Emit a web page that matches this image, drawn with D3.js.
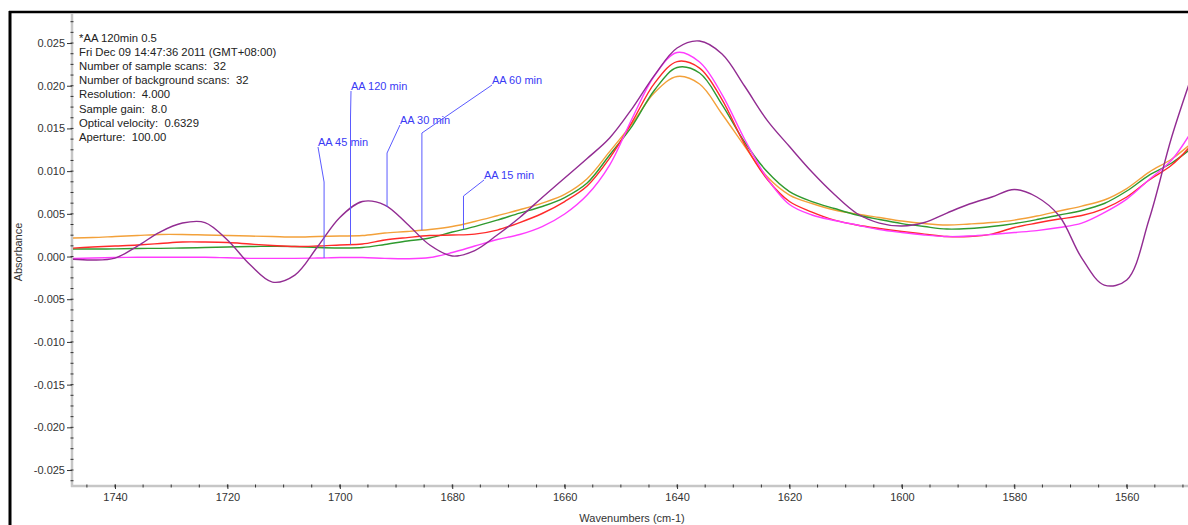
<!DOCTYPE html>
<html>
<head>
<meta charset="utf-8">
<script src="https://cdn.jsdelivr.net/npm/d3@7"></script>
<style>
  html, body { margin: 0; padding: 0; background: #fff; }
  svg { display: block; font-family: "Liberation Sans", Arial, sans-serif; }
</style>
</head>
<body>
<svg id="chart" width="1188" height="525"></svg>
<script>
// Wavenumber grid (cm-1), shared by every spectrum
const wavenumbers = [1748, 1744, 1740, 1736, 1732, 1728, 1724, 1720, 1716, 1712,
  1708, 1704, 1700, 1696, 1692, 1688, 1684, 1680, 1676, 1672,
  1668, 1664, 1660, 1656, 1652, 1648, 1644, 1640, 1636, 1632,
  1628, 1624, 1620, 1616, 1612, 1608, 1604, 1600, 1596, 1592,
  1588, 1584, 1580, 1576, 1572, 1568, 1564, 1560, 1556, 1552, 1548];

// Absorbance spectra
const aa15 = [0.00088, 0.00088, 0.00090, 0.00094, 0.00096, 0.00100, 0.00105, 0.00111, 0.00117, 0.00119,
  0.00117, 0.00105, 0.00100, 0.00105, 0.00141, 0.00182, 0.00217, 0.00287, 0.00351, 0.00427,
  0.00509, 0.00586, 0.00691, 0.00861, 0.01189, 0.01528, 0.01950, 0.02213, 0.02149, 0.01780,
  0.01341, 0.00995, 0.00761, 0.00644, 0.00562, 0.00486, 0.00433, 0.00386, 0.00351, 0.00322,
  0.00328, 0.00351, 0.00386, 0.00433, 0.00486, 0.00539, 0.00621, 0.00767, 0.00954, 0.01095, 0.01294];

const aa30 = [-0.00029, -0.00041, -0.00018, 0.00123, 0.00287, 0.00392, 0.00398, 0.00193, -0.00094, -0.00299,
  -0.00217, 0.00111, 0.00457, 0.00644, 0.00603, 0.00381, 0.00135, 0.00006, 0.00070, 0.00252,
  0.00457, 0.00691, 0.00919, 0.01148, 0.01388, 0.01733, 0.02125, 0.02442, 0.02524, 0.02372,
  0.01997, 0.01598, 0.01288, 0.00989, 0.00726, 0.00504, 0.00392, 0.00357, 0.00398, 0.00509,
  0.00615, 0.00697, 0.00785, 0.00697, 0.00474, -0.00018, -0.00334, -0.00275, 0.00439, 0.01399, 0.02196];

const aa45 = [-0.00023, -0.00018, -0.00012, -0.00009, -0.00009, -0.00009, -0.00009, -0.00015, -0.00021, -0.00021,
  -0.00021, -0.00018, -0.00012, -0.00012, -0.00021, -0.00026, -0.00012, 0.00047, 0.00123, 0.00199,
  0.00258, 0.00351, 0.00498, 0.00720, 0.01071, 0.01616, 0.02120, 0.02389, 0.02278, 0.01897,
  0.01376, 0.00919, 0.00609, 0.00486, 0.00422, 0.00369, 0.00316, 0.00281, 0.00252, 0.00234,
  0.00240, 0.00258, 0.00281, 0.00304, 0.00340, 0.00392, 0.00515, 0.00673, 0.00902, 0.01130, 0.01516];

const aa60 = [0.00217, 0.00222, 0.00234, 0.00246, 0.00258, 0.00258, 0.00252, 0.00246, 0.00240, 0.00234,
  0.00228, 0.00234, 0.00240, 0.00246, 0.00275, 0.00293, 0.00316, 0.00351, 0.00410, 0.00478,
  0.00548, 0.00626, 0.00728, 0.00911, 0.01228, 0.01556, 0.01920, 0.02108, 0.02020, 0.01669,
  0.01294, 0.00936, 0.00720, 0.00621, 0.00545, 0.00498, 0.00457, 0.00416, 0.00386, 0.00369,
  0.00381, 0.00398, 0.00427, 0.00474, 0.00533, 0.00591, 0.00662, 0.00796, 0.00989, 0.01142, 0.01353];

const aa120 = [0.00096, 0.00111, 0.00123, 0.00135, 0.00152, 0.00170, 0.00170, 0.00164, 0.00146, 0.00129,
  0.00117, 0.00123, 0.00135, 0.00146, 0.00193, 0.00222, 0.00246, 0.00252, 0.00263, 0.00310,
  0.00398, 0.00504, 0.00644, 0.00826, 0.01153, 0.01575, 0.02031, 0.02283, 0.02207, 0.01838,
  0.01317, 0.00908, 0.00644, 0.00521, 0.00427, 0.00369, 0.00328, 0.00293, 0.00263, 0.00234,
  0.00234, 0.00263, 0.00340, 0.00392, 0.00439, 0.00480, 0.00562, 0.00697, 0.00896, 0.01071, 0.01341];

// Axis ticks
const yTicks = [0.025, 0.020, 0.015, 0.010, 0.005, 0.000, -0.005, -0.010, -0.015, -0.020, -0.025];
const xTicks = [1740, 1720, 1700, 1680, 1660, 1640, 1620, 1600, 1580, 1560];

// Collection header
const infoLines = [
  "*AA 120min 0.5",
  "Fri Dec 09 14:47:36 2011 (GMT+08:00)",
  "Number of sample scans:  32",
  "Number of background scans:  32",
  "Resolution:  4.000",
  "Sample gain:  8.0",
  "Optical velocity:  0.6329",
  "Aperture:  100.00"
];

// Spectrum tags: which spectrum, and the wavenumber the leader points at
const tagNames = ["AA 45 min", "AA 120 min", "AA 30 min", "AA 60 min", "AA 15 min"];
const tagWavenumbers = [1702.8, 1698.1, 1691.6, 1685.4, 1678.0];

// ---- drawing ----
const series = [
  { name: "AA 60 min",  values: aa60,  color: "#f3a13a" },
  { name: "AA 15 min",  values: aa15,  color: "#2f9a2f" },
  { name: "AA 120 min", values: aa120, color: "#ff2a2a" },
  { name: "AA 45 min",  values: aa45,  color: "#ff3cff" },
  { name: "AA 30 min",  values: aa30,  color: "#922c92" }
];
const byName = Object.fromEntries(series.map(s => [s.name, s]));

const plot = { left: 72, right: 1188, top: 14, bottom: 486 };

const x = d3.scaleLinear().domain([1747.65, 1549.1]).range([plot.left, plot.right]);
const y = d3.scaleLinear().domain([-0.02687, 0.02840]).range([plot.bottom, plot.top]);

const svg = d3.select("#chart");

// frame
svg.append("line").attr("x1", 9).attr("x2", 1188).attr("y1", 12).attr("y2", 12)
  .attr("stroke", "#000").attr("stroke-width", 2.5);
svg.append("line").attr("x1", 10).attr("x2", 10).attr("y1", 11).attr("y2", 525)
  .attr("stroke", "#000").attr("stroke-width", 3);

// axis lines
svg.append("line").attr("x1", plot.left).attr("x2", plot.left).attr("y1", plot.top).attr("y2", plot.bottom + 1)
  .attr("stroke", "#c6c6c6").attr("stroke-width", 2.5);
svg.append("line").attr("x1", plot.left - 1).attr("x2", plot.right).attr("y1", plot.bottom).attr("y2", plot.bottom)
  .attr("stroke", "#c6c6c6").attr("stroke-width", 2.5);

// minor ticks
const yMinor = d3.range(-26, 23).map(i => i * 0.00125).filter(v => y(v) >= plot.top && y(v) <= plot.bottom);
svg.append("g").selectAll("line").data(yMinor).join("line")
  .attr("x1", plot.left - 1.5).attr("x2", plot.left + 1.5)
  .attr("y1", d => y(d)).attr("y2", d => y(d))
  .attr("stroke", "#333").attr("stroke-width", 1);
const xMinor = d3.range(1745, 1549, -5);
svg.append("g").selectAll("line").data(xMinor).join("line")
  .attr("x1", d => x(d)).attr("x2", d => x(d))
  .attr("y1", plot.bottom - 1.5).attr("y2", plot.bottom + 1.5)
  .attr("stroke", "#333").attr("stroke-width", 1);

// major axes
const yAxis = d3.axisLeft(y).tickValues(yTicks).tickSize(5).tickPadding(2)
  .tickFormat(d => d.toFixed(3));
const gy = svg.append("g").attr("transform", `translate(${plot.left},0)`).call(yAxis);
gy.select(".domain").remove();
gy.selectAll(".tick line").attr("stroke", "#333");
gy.selectAll(".tick text").attr("fill", "#333").attr("font-size", 11)
  .attr("font-family", "Liberation Sans, Arial, sans-serif");

const xAxis = d3.axisBottom(x).tickValues(xTicks).tickSize(3).tickPadding(4).tickFormat(d3.format("d"));
const gx = svg.append("g").attr("transform", `translate(0,${plot.bottom})`).call(xAxis);
gx.select(".domain").remove();
gx.selectAll(".tick line").attr("stroke", "#333").attr("y1", -1.5);
gx.selectAll(".tick text").attr("fill", "#333").attr("font-size", 11)
  .attr("font-family", "Liberation Sans, Arial, sans-serif");

// axis titles
svg.append("text").attr("transform", "translate(22,252) rotate(-90)")
  .attr("text-anchor", "middle").attr("font-size", 11).attr("fill", "#333").text("Absorbance");
svg.append("text").attr("x", 632).attr("y", 522)
  .attr("text-anchor", "middle").attr("font-size", 11).attr("fill", "#333").text("Wavenumbers (cm-1)");

// spectra
svg.append("clipPath").attr("id", "plot-clip").append("rect")
  .attr("x", plot.left + 1).attr("y", plot.top).attr("width", plot.right - plot.left).attr("height", plot.bottom - plot.top - 1);

const line = d3.line()
  .x((d, i) => x(wavenumbers[i]))
  .y(d => y(d))
  .curve(d3.curveCatmullRom.alpha(0.5));

svg.append("g").attr("clip-path", "url(#plot-clip)")
  .selectAll("path").data(series).join("path")
  .attr("d", d => line(d.values))
  .attr("fill", "none")
  .attr("stroke", d => d.color)
  .attr("stroke-width", 1.4)
  .attr("stroke-linejoin", "round");

// header text
svg.append("g").selectAll("text").data(infoLines).join("text")
  .attr("x", 79).attr("y", (d, i) => 42 + i * 14.1)
  .attr("font-size", 11.3).attr("fill", "#222")
  .attr("xml:space", "preserve").style("white-space", "pre")
  .text(d => d);

// spectrum tags with leader lines
function valueAt(values, w) {
  for (let k = 0; k < wavenumbers.length - 1; k++) {
    if (wavenumbers[k] >= w && wavenumbers[k + 1] <= w) {
      const t = (wavenumbers[k] - w) / (wavenumbers[k] - wavenumbers[k + 1]);
      return values[k] + (values[k + 1] - values[k]) * t;
    }
  }
  return values[values.length - 1];
}

const tagLayout = {
  "AA 45 min":  { tx: 318, ty: 142, elbow: 182 },
  "AA 120 min": { tx: 351, ty: 86,  elbow: 117 },
  "AA 30 min":  { tx: 400, ty: 120, elbow: 153 },
  "AA 60 min":  { tx: 492, ty: 80,  elbow: 133 },
  "AA 15 min":  { tx: 484, ty: 175, elbow: 196 }
};

const tags = svg.append("g");
tagNames.forEach((name, i) => {
  const w = tagWavenumbers[i];
  const ax = x(w);
  const ay = y(valueAt(byName[name].values, w));
  const L = tagLayout[name];
  tags.append("polyline")
    .attr("points", [[L.tx, L.ty + 5], [ax, L.elbow], [ax, ay]].map(p => p.join(",")).join(" "))
    .attr("fill", "none").attr("stroke", "#5a5aff").attr("stroke-width", 1);
  tags.append("text")
    .attr("x", L.tx).attr("y", L.ty + 4)
    .attr("font-size", 11).attr("fill", "#3a3af5")
    .text(name);
});
</script>
</body>
</html>
